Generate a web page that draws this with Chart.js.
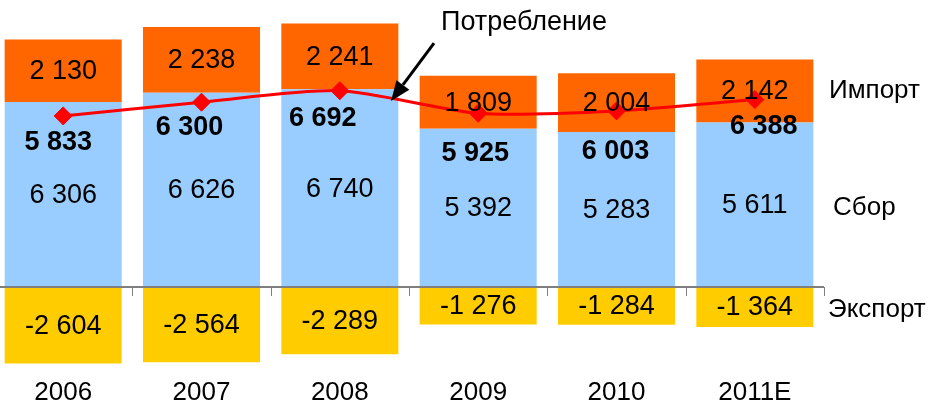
<!DOCTYPE html>
<html>
<head>
<meta charset="utf-8">
<script src="https://cdn.jsdelivr.net/npm/chart.js@4.4.0/dist/chart.umd.min.js"></script>
<style>
  html, body { margin: 0; padding: 0; background: #fff; overflow: hidden; }
  #chart { position: absolute; left: -6px; top: 0; }
</style>
</head>
<body>
<canvas id="chart" width="936" height="405"></canvas>
<script>
const years = ["2006", "2007", "2008", "2009", "2010", "2011E"];
const harvest = [6306, 6626, 6740, 5392, 5283, 5611];
const imports = [2130, 2238, 2241, 1809, 2004, 2142];
const exports = [-2604, -2564, -2289, -1276, -1284, -1364];
const consumption = [5833, 6300, 6692, 5925, 6003, 6388];

const FONT = "'Liberation Sans', Arial, sans-serif";
const fmt = (v) => String(v).replace(/\B(?=(\d{3})+(?!\d))/g, " ");

// hand placed offsets of the bold consumption labels, like in the original
const consDx = [-5, -12, -17, -3, -1, 9];
const consDy = [27, 25, 28, 40, 41, 27];

// zero line with tick marks between the categories, and the year labels
const zeroAxisPlugin = {
  id: "zeroAxis",
  afterDatasetsDraw(chart) {
    const ctx = chart.ctx;
    const area = chart.chartArea;
    const y0 = Math.round(chart.scales.y.getPixelForValue(0));
    const n = years.length;
    const step = (area.right - area.left) / n;
    ctx.save();
    ctx.strokeStyle = "#7f7f7f";
    ctx.lineWidth = 2;
    ctx.beginPath();
    ctx.moveTo(area.left, y0);
    ctx.lineTo(area.right, y0);
    ctx.stroke();
    ctx.lineWidth = 1;
    ctx.beginPath();
    for (let i = 0; i <= n; i++) {
      const x = Math.round(area.left + i * step) + 0.5;
      ctx.moveTo(x, y0);
      ctx.lineTo(x, y0 + 9);
    }
    ctx.stroke();

    ctx.fillStyle = "#000";
    ctx.textAlign = "center";
    ctx.textBaseline = "middle";
    ctx.font = "26px " + FONT;
    years.forEach((yr, i) => {
      ctx.fillText(yr, chart.scales.x.getPixelForValue(i), area.bottom + 18);
    });
    ctx.restore();
  }
};

const labelsPlugin = {
  id: "labels",
  afterDatasetsDraw(chart) {
    const ctx = chart.ctx;
    ctx.save();
    ctx.textAlign = "center";
    ctx.textBaseline = "middle";
    ctx.fillStyle = "#000";

    // values inside the bar segments
    ctx.font = "27px " + FONT;
    [0, 1, 2].forEach((di) => {
      const meta = chart.getDatasetMeta(di);
      meta.data.forEach((bar, i) => {
        const v = chart.data.datasets[di].data[i];
        ctx.fillText(fmt(v), bar.x, (bar.y + bar.base) / 2 + 1);
      });
    });

    // consumption values
    ctx.font = "bold 27px " + FONT;
    const lineMeta = chart.getDatasetMeta(3);
    lineMeta.data.forEach((pt, i) => {
      ctx.fillText(fmt(consumption[i]), pt.x + consDx[i], pt.y + consDy[i]);
    });

    // series names at the right of the last bar
    ctx.textAlign = "left";
    ctx.font = "26px " + FONT;
    const last = years.length - 1;
    const right = chart.chartArea.right;
    const b0 = chart.getDatasetMeta(0).data[last];
    const b1 = chart.getDatasetMeta(1).data[last];
    const b2 = chart.getDatasetMeta(2).data[last];
    ctx.fillText("Импорт", right + 5, (b1.y + b1.base) / 2);
    ctx.fillText("Сбор", right + 9, (b0.y + b0.base) / 2 + 3);
    ctx.fillText("Экспорт", right + 4, (b2.y + b2.base) / 2 + 3);

    // arrow pointing at the consumption line
    const p2 = lineMeta.data[2], p3 = lineMeta.data[3];
    const t = 0.37;
    const tipX = p2.x + (p3.x - p2.x) * t;
    const tipY = p2.y + (p3.y - p2.y) * t + 2;
    const tailX = tipX + 43, tailY = tipY - 58;
    const ang = Math.atan2(tipY - tailY, tipX - tailX);
    const headLen = 20, headW = 8;
    const baseX = tipX - headLen * Math.cos(ang);
    const baseY = tipY - headLen * Math.sin(ang);
    ctx.strokeStyle = "#000";
    ctx.lineWidth = 3;
    ctx.beginPath();
    ctx.moveTo(tailX, tailY);
    ctx.lineTo(baseX, baseY);
    ctx.stroke();
    ctx.beginPath();
    ctx.moveTo(tipX, tipY);
    ctx.lineTo(baseX + headW * Math.sin(ang), baseY - headW * Math.cos(ang));
    ctx.lineTo(baseX - headW * Math.sin(ang), baseY + headW * Math.cos(ang));
    ctx.closePath();
    ctx.fill();

    ctx.font = "27px " + FONT;
    ctx.fillText("Потребление", tailX + 7, tailY - 20);
    ctx.restore();
  }
};

new Chart(document.getElementById("chart"), {
  type: "bar",
  data: {
    labels: years,
    datasets: [
      { label: "Сбор", data: harvest, backgroundColor: "#99CCFF", order: 1 },
      { label: "Импорт", data: imports, backgroundColor: "#FF6600", order: 1 },
      { label: "Экспорт", data: exports, backgroundColor: "#FFCC00", order: 1 },
      {
        type: "line",
        label: "Потребление",
        data: consumption,
        stack: "line",
        order: 0,
        borderColor: "#FF0000",
        backgroundColor: "#FF0000",
        borderWidth: 3,
        tension: 0.25,
        pointStyle: "rectRot",
        pointRadius: 9,
        pointBorderWidth: 1,
        fill: false
      }
    ]
  },
  options: {
    responsive: false,
    animation: false,
    datasets: { bar: { barPercentage: 0.846, categoryPercentage: 1.0 } },
    layout: { autoPadding: false, padding: { top: 23, right: 106, left: 0, bottom: 30 } },
    plugins: { legend: { display: false }, tooltip: { enabled: false } },
    scales: {
      x: {
        stacked: true,
        grid: { display: false, drawTicks: false },
        border: { display: false },
        ticks: { display: false }
      },
      y: {
        stacked: true,
        display: false,
        min: -3000,
        max: 9000
      }
    }
  },
  plugins: [zeroAxisPlugin, labelsPlugin]
});
</script>
</body>
</html>
